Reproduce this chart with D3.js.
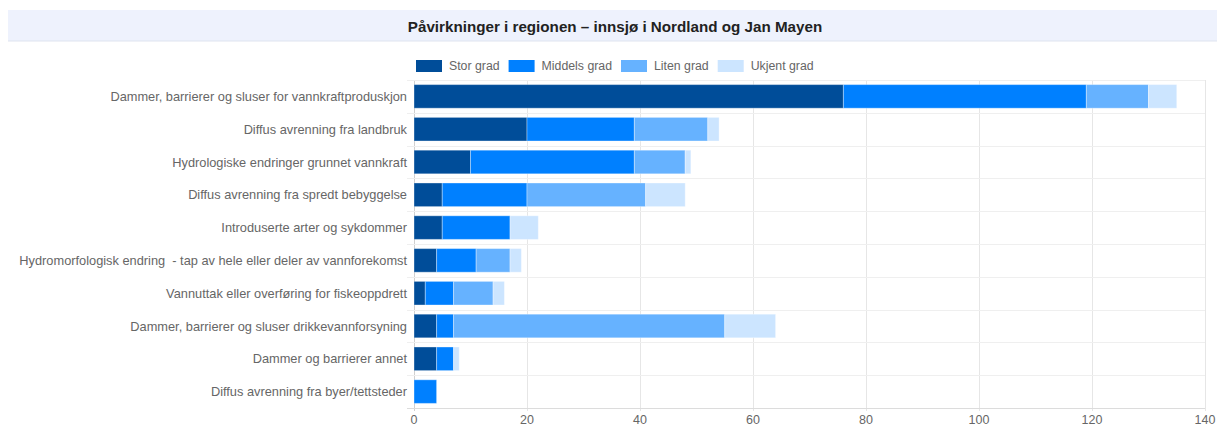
<!DOCTYPE html>
<html>
<head>
<meta charset="utf-8">
<script src="https://cdn.jsdelivr.net/npm/d3@7"></script>
<style>
  html, body { margin: 0; padding: 0; background: #fff; }
  svg { display: block; font-family: "Liberation Sans", Arial, sans-serif; }
</style>
</head>
<body>
<svg id="chart" width="1217" height="427"></svg>
<script>
const title = "Påvirkninger i regionen – innsjø i Nordland og Jan Mayen";

const categories = [
  "Dammer, barrierer og sluser for vannkraftproduskjon",
  "Diffus avrenning fra landbruk",
  "Hydrologiske endringer grunnet vannkraft",
  "Diffus avrenning fra spredt bebyggelse",
  "Introduserte arter og sykdommer",
  "Hydromorfologisk endring  - tap av hele eller deler av vannforekomst",
  "Vannuttak eller overføring for fiskeoppdrett",
  "Dammer, barrierer og sluser drikkevannforsyning",
  "Dammer og barrierer annet",
  "Diffus avrenning fra byer/tettsteder"
];

const seriesNames = ["Stor grad", "Middels grad", "Liten grad", "Ukjent grad"];
const storGrad    = [76, 20, 10, 5, 5, 4, 2, 4, 4, 0];
const middelsGrad = [43, 19, 29, 15, 12, 7, 5, 3, 3, 4];
const litenGrad   = [11, 13, 9, 21, 0, 6, 7, 48, 0, 0];
const ukjentGrad  = [5, 2, 1, 7, 5, 2, 2, 9, 1, 0];
const xTicks = [0, 20, 40, 60, 80, 100, 120, 140];

const colors = ["#004d99", "#0080ff", "#66b2ff", "#cce5ff"];

const svg = d3.select("#chart");
const W = 1217, H = 427;
const margin = { left: 414, right: 12, top: 80, bottom: 19 };
const plotW = W - margin.left - margin.right;
const plotH = H - margin.top - margin.bottom;

// Title banner
svg.append("rect").attr("x", 8).attr("y", 10).attr("width", W - 8).attr("height", 31)
  .attr("fill", "#eef2fd");
svg.append("line").attr("x1", 8).attr("x2", W).attr("y1", 41).attr("y2", 41)
  .attr("stroke", "#dfe4ef").attr("stroke-width", 1);
svg.append("text").attr("x", 615).attr("y", 26).attr("text-anchor", "middle")
  .attr("dominant-baseline", "central")
  .attr("font-size", 15.2).attr("font-weight", "bold").attr("fill", "#222")
  .text(title);

// Scales
const x = d3.scaleLinear().domain([0, 140]).range([0, plotW]);
const y = d3.scaleBand().domain(categories).range([0, plotH]).paddingInner(0.28).paddingOuter(0.14);
const band = d3.scaleBand().domain(categories).range([0, plotH]);

const rows = categories.map((c, i) => ({
  category: c,
  "Stor grad": storGrad[i],
  "Middels grad": middelsGrad[i],
  "Liten grad": litenGrad[i],
  "Ukjent grad": ukjentGrad[i]
}));
const stacked = d3.stack().keys(seriesNames)(rows);

const g = svg.append("g").attr("transform", `translate(${margin.left},${margin.top})`);

// Vertical grid lines at ticks
g.append("g").selectAll("line").data(xTicks).join("line")
  .attr("x1", d => x(d) + 0.5).attr("x2", d => x(d) + 0.5)
  .attr("y1", 0).attr("y2", plotH + 3)
  .attr("stroke", d => d === 0 ? "#d0d0d0" : "#e6e6e6").attr("stroke-width", 1);

// Horizontal grid lines between categories
const hLines = d3.range(categories.length + 1).map(i => i === categories.length ? plotH : band(categories[i]));
g.append("g").selectAll("line").data(hLines).join("line")
  .attr("x1", -7).attr("x2", plotW)
  .attr("y1", d => Math.round(d) + 0.5).attr("y2", d => Math.round(d) + 0.5)
  .attr("stroke", (d, i) => i === categories.length ? "#dcdcdc" : "#efefef").attr("stroke-width", 1);

// Stacked bars
g.append("g").selectAll("g").data(stacked).join("g")
  .attr("fill", (d, i) => colors[i])
  .selectAll("rect").data(d => d.filter(s => s[1] > s[0])).join("rect")
  .attr("x", d => x(d[0]))
  .attr("width", d => x(d[1]) - x(d[0]))
  .attr("y", d => y(d.data.category))
  .attr("height", y.bandwidth())
  .attr("stroke", "rgba(255,255,255,0.35)")
  .attr("stroke-width", 1);

// Category labels
g.append("g").selectAll("text").data(categories).join("text")
  .attr("x", -7).attr("y", d => y(d) + y.bandwidth() / 2)
  .attr("text-anchor", "end").attr("dominant-baseline", "central")
  .attr("font-size", 12.8).attr("fill", "#666")
  .style("white-space", "pre")
  .text(d => d);

// X axis tick labels
g.append("g").selectAll("text").data(xTicks).join("text")
  .attr("x", d => x(d)).attr("y", plotH + 12)
  .attr("text-anchor", "middle").attr("dominant-baseline", "central")
  .attr("font-size", 12.5).attr("fill", "#666")
  .text(d => d);

// Legend
const legend = svg.append("g").attr("transform", "translate(416,60)");
let lx = 0;
seriesNames.forEach((name, i) => {
  const item = legend.append("g").attr("transform", `translate(${lx},0)`);
  item.append("rect").attr("width", 26).attr("height", 12).attr("fill", colors[i]);
  const t = item.append("text").attr("x", 33).attr("y", 6).attr("dominant-baseline", "central")
    .attr("font-size", 12.3).attr("fill", "#666").text(name);
  lx += 33 + t.node().getComputedTextLength() + 9;
});
</script>
</body>
</html>
